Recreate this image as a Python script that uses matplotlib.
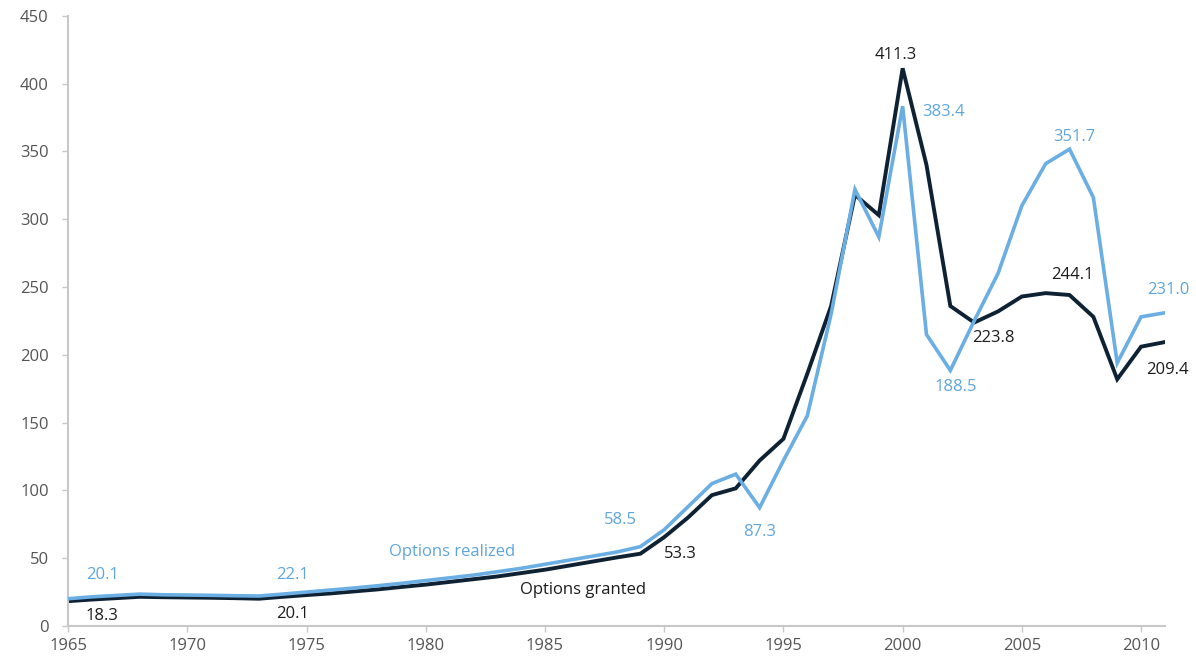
import numpy as np
import matplotlib.pyplot as plt

plt.rcParams['font.family'] = ['Open Sans', 'DejaVu Sans']

# Years and series values
years = list(range(1965, 2012))

granted = [18.3, 19.5, 20.5, 21.5, 21.2, 21.0, 20.8, 20.5, 20.1, 21.5,
           22.8, 24.0, 25.5, 27.0, 28.8, 30.5, 32.5, 34.5, 36.5, 39.0,
           41.5, 44.5, 47.5, 50.5, 53.3, 65.5, 80.0, 96.5, 101.5, 122.0,
           138.0, 186.0, 236.0, 318.0, 303.0, 411.3, 340.0, 236.0, 223.8, 232.0,
           243.0, 245.5, 244.1, 228.0, 182.0, 206.0, 209.4]

realized = [20.1, 21.5, 22.5, 23.5, 23.0, 22.8, 22.6, 22.3, 22.1, 23.5,
            25.0, 26.5, 28.0, 29.7, 31.5, 33.5, 35.5, 37.5, 40.0, 42.5,
            45.5, 48.5, 51.5, 54.5, 58.5, 71.0, 88.0, 105.0, 112.0, 87.3,
            122.0, 155.0, 230.0, 322.0, 287.0, 383.4, 215.0, 188.5, 225.0, 260.0,
            310.0, 341.0, 351.7, 316.0, 194.0, 228.0, 231.0]

# labelled points: (year, text, pixel offset)
realized_labels = [(1965, '20.1', (34, 24)), (1973, '22.1', (34, 21)),
                   (1989, '58.5', (-20, 27)), (1994, '87.3', (0, -24)),
                   (2000, '383.4', (41, -6)), (2002, '188.5', (5, -17)),
                   (2007, '351.7', (5, 12)), (2011, '231.0', (3, 23))]
granted_labels = [(1965, '18.3', (34, -15)), (1973, '20.1', (34, -15)),
                  (1989, '53.3', (40, 0)), (2000, '411.3', (-7, 13)),
                  (2003, '223.8', (19, -15)), (2007, '244.1', (3, 20)),
                  (2011, '209.4', (3, -28))]

dark = '#0f2233'
light = '#6aaee3'
light_txt = '#5fa6de'
dark_txt = '#1c1c1c'
axis_col = '#c8c8c8'

fig = plt.figure(figsize=(11.96, 6.61), dpi=100)
ax = fig.add_axes([0.057, 0.053, 0.917, 0.923])

ax.plot(years, realized, color=light, linewidth=2.6, zorder=3, solid_joinstyle='miter')
ax.plot(years, granted, color=dark, linewidth=2.8, zorder=2, solid_joinstyle='miter')

for yr, txt, off in realized_labels:
    v = realized[years.index(yr)]
    ax.annotate(txt, (yr, v), xytext=off, textcoords='offset pixels',
                ha='center', va='center', fontsize=12, color=light_txt)
for yr, txt, off in granted_labels:
    v = granted[years.index(yr)]
    ax.annotate(txt, (yr, v), xytext=off, textcoords='offset pixels',
                ha='center', va='center', fontsize=12, color=dark_txt)

ax.text(1981.1, 54.6, 'Options realized', ha='center', va='center',
        fontsize=12, color=light_txt)
ax.text(1986.6, 26.5, 'Options granted', ha='center', va='center',
        fontsize=12, color=dark_txt)

ax.set_xlim(1965, 2011)
ax.set_ylim(0, 450)
ax.set_xticks(np.arange(1965, 2011, 5))
ax.set_yticks(np.arange(0, 451, 50))

for s in ['top', 'right']:
    ax.spines[s].set_visible(False)
for s in ['left', 'bottom']:
    ax.spines[s].set_color(axis_col)
    ax.spines[s].set_linewidth(1.5)
ax.tick_params(axis='both', colors=axis_col, labelcolor='#555555',
               labelsize=12, length=4, width=1)
ax.tick_params(axis='x', pad=5)
ax.tick_params(axis='y', pad=10)

fig.savefig('out.png', dpi=100)
